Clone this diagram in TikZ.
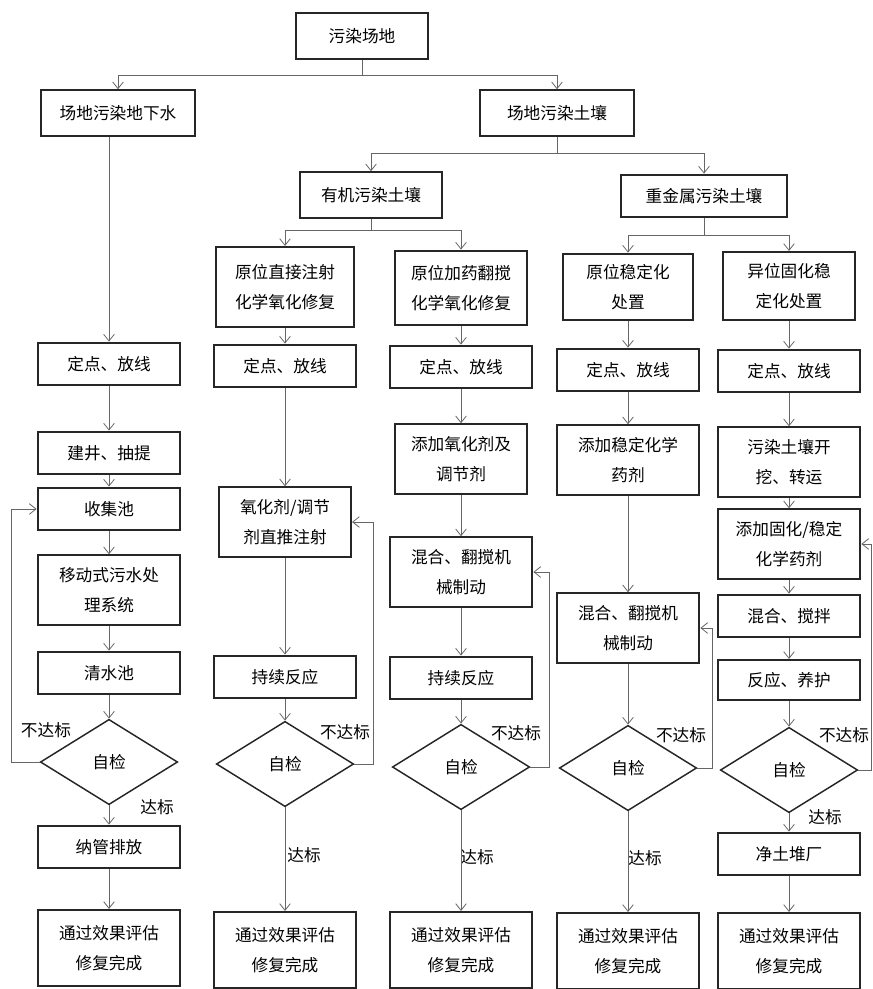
\documentclass[tikz,border=0pt]{standalone}
\usepackage{fontspec}
\newfontfamily\cjk{Noto Sans CJK SC}
\usetikzlibrary{shapes.geometric,arrows.meta}

\tikzset{
  box/.style={draw=black!85, line width=1.6pt, minimum width=107pt, minimum height=32pt,
    inner sep=2pt, align=center, font=\cjk\fontsize{12.5pt}{22.5pt}\selectfont},
  tallbox/.style={box, minimum height=52pt},
  endbox/.style={box, minimum height=57pt},
  check/.style={diamond, draw=black!85, line width=1.1pt, minimum width=103pt,
    minimum height=64pt, inner sep=0pt, font=\cjk\fontsize{12.5pt}{15pt}\selectfont},
  note/.style={inner sep=1pt, font=\cjk\fontsize{12.5pt}{15pt}\selectfont},
  link/.style={draw=black!60, line width=0.6pt},
  flow/.style={link, -{Straight Barb[length=5pt,width=8pt]}}
}

\begin{document}
\begin{tikzpicture}[x=0.75pt, y=-0.75pt]
    \useasboundingbox (0,0) rectangle (872,989);
    \node[box, minimum width=99pt, minimum height=34pt] (site) at (362,36) {污染场地};
    \node[box, minimum width=116pt, minimum height=34pt] (water) at (118,113) {场地污染地下水};
    \node[box, minimum width=115pt, minimum height=34pt] (soil) at (557,113) {场地污染土壤};
    \node[box, minimum height=34pt] (organic) at (371,195) {有机污染土壤};
    \node[box, minimum width=125pt] (metal) at (704,196) {重金属污染土壤};
    \node[box, minimum width=103pt, minimum height=60pt] (injsitu) at (285,287) {原位直接注射\\化学氧化修复};
    \node[box, minimum width=99pt, minimum height=56pt] (mixsitu) at (461,288) {原位加药翻搅\\化学氧化修复};
    \node[box, minimum width=97pt, minimum height=50pt] (stabsitu) at (628,287) {原位稳定化\\处置};
    \node[box, minimum width=99pt, minimum height=51pt] (solidex) at (789,286) {异位固化稳\\定化处置};

    \node[box] (gfix) at (109,364) {定点、放线};
    \node[box] (gwell) at (109,453) {建井、抽提};
    \node[box] (gpool) at (109,509) {收集池};
    \node[tallbox] (gtreat) at (109,590) {移动式污水处\\理系统};
    \node[box] (gclear) at (109,673) {清水池};
    \node[check] (gchk) at (109,762) {自检};
    \node[box] (gdis) at (109,847) {纳管排放};
    \node[endbox] (gend) at (109,948) {通过效果评估\\修复完成};

    \node[box] (afix) at (285,366) {定点、放线};
    \node[tallbox, minimum width=99pt] (apush) at (285,522) {氧化剂/调节\\剂直推注射};
    \node[box] (areact) at (285,677) {持续反应};
    \node[check] (achk) at (285,764) {自检};
    \node[endbox] (aend) at (285,950) {通过效果评估\\修复完成};

    \node[box] (bfix) at (461,367) {定点、放线};
    \node[tallbox, minimum width=99pt] (badd) at (461,459) {添加氧化剂及\\调节剂};
    \node[tallbox] (bmix) at (461,572) {混合、翻搅机\\械制动};
    \node[box] (breact) at (461,678) {持续反应};
    \node[check] (bchk) at (461,767) {自检};
    \node[endbox] (bend) at (461,950) {通过效果评估\\修复完成};

    \node[box] (cfix) at (628,370) {定点、放线};
    \node[tallbox] (cadd) at (628,460) {添加稳定化学\\药剂};
    \node[tallbox] (cmix) at (628,628) {混合、翻搅机\\械制动};
    \node[check] (cchk) at (628,768) {自检};
    \node[endbox] (cend) at (628,951) {通过效果评估\\修复完成};

    \node[box] (dfix) at (789,371) {定点、放线};
    \node[tallbox] (ddig) at (789,462) {污染土壤开\\挖、转运};
    \node[tallbox] (dadd) at (789,544) {添加固化/稳定\\化学药剂};
    \node[box] (dstir) at (789,616) {混合、搅拌};
    \node[box, minimum height=30pt] (dcure) at (789,680) {反应、养护};
    \node[check] (dchk) at (789,770) {自检};
    \node[box] (dclean) at (789,854) {净土堆厂};
    \node[endbox] (dend) at (789,951) {通过效果评估\\修复完成};

    \node[note] (gno) at (46,730) {不达标};
    \node[note] (ano) at (345,732) {不达标};
    \node[note] (bno) at (516,733) {不达标};
    \node[note] (cno) at (681,735) {不达标};
    \node[note] (dno) at (844,735) {不达标};
    \node[note] (gyes) at (157,807) {达标};
    \node[note] (ayes) at (304,855) {达标};
    \node[note] (byes) at (477,857) {达标};
    \node[note] (cyes) at (645,858) {达标};
    \node[note] (dyes) at (825,817) {达标};

    \draw[link] (site.south) -- ++(0,15.5) coordinate (j1);
    \draw[flow] (j1) -| (water.north);
    \draw[flow] (j1) -| (soil.north);
    \draw[link] (soil.south) -- ++(0,16.5) coordinate (j2);
    \draw[flow] (j2) -| (organic.north);
    \draw[flow] (j2) -| (metal.north);
    \draw[link] (organic.south) -- ++(0,11.5) coordinate (j3);
    \draw[flow] (j3) -| (injsitu.north);
    \draw[flow] (j3) -| (mixsitu.north);
    \draw[link] (metal.south) -- ++(0,16.5) coordinate (j4);
    \draw[flow] (j4) -| (stabsitu.north);
    \draw[flow] (j4) -| (solidex.north);
    \draw[flow] (water.south -| gfix.north) -- (gfix.north);

    \foreach \a/\b in {gfix/gwell, gwell/gpool, gpool/gtreat, gtreat/gclear, gclear/gchk,
        gchk/gdis, gdis/gend, injsitu/afix, afix/apush, apush/areact, areact/achk, achk/aend,
        mixsitu/bfix, bfix/badd, badd/bmix, bmix/breact, breact/bchk, bchk/bend,
        stabsitu/cfix, cfix/cadd, cadd/cmix, cmix/cchk, cchk/cend,
        solidex/dfix, dfix/ddig, ddig/dadd, dadd/dstir, dstir/dcure, dcure/dchk,
        dchk/dclean, dclean/dend}
      \draw[flow] (\a.south) -- (\b.north);

    \draw[flow] (gchk.west) -- ++(-28.5,0) |- (gpool.west);
    \draw[flow] (achk.east) -- ++(18.5,0) |- (apush.east);
    \draw[flow] (bchk.east) -- ++(18.5,0) |- (bmix.east);
    \draw[flow] (cchk.east) -- ++(14.5,0) |- (cmix.east);
    \draw[flow] (dchk.east) -- ++(12.5,0) |- (dadd.east);
\end{tikzpicture}
\end{document}
